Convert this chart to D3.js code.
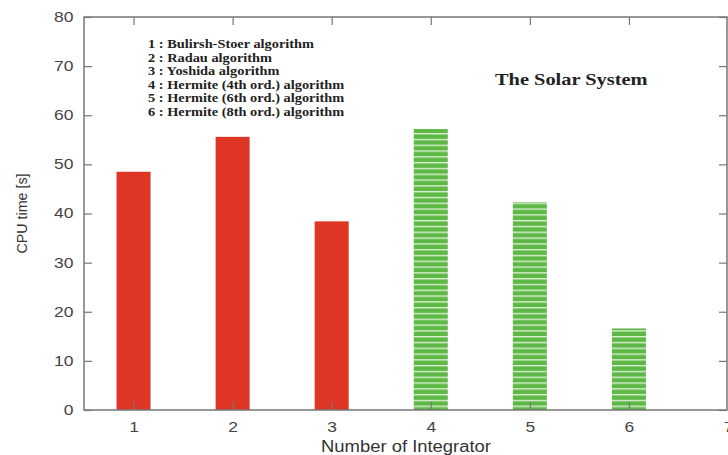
<!DOCTYPE html>
<html>
<head>
<meta charset="utf-8">
<script src="https://cdn.jsdelivr.net/npm/d3@7"></script>
<style>
  body { margin: 0; background: #fff; }
  svg { display: block; }
</style>
</head>
<body>
<div id="chart"></div>
<script>
// values
const integrators = [1, 2, 3, 4, 5, 6];
const cpuTime = [48.5, 55.6, 38.4, 57.2, 42.3, 16.6];
const groups = ["red", "red", "red", "green", "green", "green"];
const legendLines = [
    "1 : Bulirsh-Stoer algorithm",
    "2 : Radau algorithm",
    "3 :  Yoshida algorithm",
    "4 : Hermite (4th ord.) algorithm",
    "5 : Hermite (6th ord.) algorithm",
    "6 : Hermite (8th ord.) algorithm"
];
const xTicks = [1, 2, 3, 4, 5, 6, 7];
const yTicks = [0, 10, 20, 30, 40, 50, 60, 70, 80];

const W = 728, H = 455;
const margin = {top: 17, right: 0, bottom: 45, left: 84},
    width = W - margin.left - margin.right,
    height = H - margin.top - margin.bottom;

// the source picture is stretched sideways, so is its text
const stretch = 1.25;
const sans = "'Liberation Sans', Arial, sans-serif";
const serif = "'Liberation Serif', 'DejaVu Serif', serif";

const svg = d3.select("#chart")
    .append("svg")
    .attr("width", W).attr("height", H);

const defs = svg.append("defs");
const pat = defs.append("pattern")
    .attr("id", "stripes")
    .attr("patternUnits", "userSpaceOnUse")
    .attr("width", 10).attr("height", 5.8);
pat.append("rect").attr("width", 10).attr("height", 5.8).attr("fill", "#d8efcf");
pat.append("rect").attr("y", 1.4).attr("width", 10).attr("height", 4.4).attr("fill", "#5db845");

const g = svg.append("g")
    .attr("transform", `translate(${margin.left},${margin.top})`);

const x = d3.scaleLinear().domain([0.5, 7]).range([0, width]);
const y = d3.scaleLinear().domain([0, 80]).range([height, 0]);

const barW = 34;
g.selectAll(".bar")
    .data(integrators)
    .join("rect")
    .attr("class", "bar")
    .attr("x", (d, i) => x(d) - barW / 2)
    .attr("width", barW)
    .attr("y", (d, i) => y(cpuTime[i]))
    .attr("height", (d, i) => y(0) - y(cpuTime[i]))
    .attr("fill", (d, i) => groups[i] === "red" ? "#de3524" : "url(#stripes)");

// frame
const axisColor = "#777";
g.append("rect")
    .attr("x", 0).attr("y", 0)
    .attr("width", width - 1).attr("height", height)
    .attr("fill", "none")
    .attr("stroke", axisColor)
    .attr("stroke-width", 1.5);

// inward ticks, mirrored
const tl = 8;
function styleAxis(sel) {
    sel.select(".domain").remove();
    sel.selectAll(".tick line").attr("stroke", axisColor).attr("stroke-width", 1.2);
    sel.selectAll(".tick text")
        .attr("fill", "#444")
        .attr("transform", `scale(${stretch},1)`)
        .style("font-family", sans)
        .style("font-size", "14px");
}
g.append("g")
    .attr("transform", `translate(0,${height})`)
    .call(d3.axisBottom(x).tickValues(xTicks).tickSizeInner(-tl).tickSizeOuter(0).tickPadding(12).tickFormat(d3.format("d")))
    .call(styleAxis);
g.append("g")
    .call(d3.axisTop(x).tickValues(xTicks).tickSizeInner(-tl).tickSizeOuter(0).tickFormat(""))
    .call(styleAxis);
g.append("g")
    .call(d3.axisLeft(y).tickValues(yTicks).tickSizeInner(-tl).tickSizeOuter(0).tickPadding(8.5))
    .call(styleAxis);
g.append("g")
    .attr("transform", `translate(${width - 1},0)`)
    .call(d3.axisRight(y).tickValues(yTicks).tickSizeInner(-tl).tickSizeOuter(0).tickFormat(""))
    .call(styleAxis);

// axis titles
svg.append("text")
    .attr("x", 406)
    .attr("y", 452)
    .attr("text-anchor", "middle")
    .attr("textLength", 170)
    .attr("lengthAdjust", "spacingAndGlyphs")
    .attr("fill", "#333")
    .style("font-family", sans)
    .style("font-size", "16px")
    .text("Number of Integrator");
svg.append("text")
    .attr("transform", `translate(27,${margin.top + y(40)}) rotate(-90)`)
    .attr("text-anchor", "middle")
    .attr("textLength", 80)
    .attr("lengthAdjust", "spacingAndGlyphs")
    .attr("fill", "#333")
    .style("font-family", sans)
    .style("font-size", "15px")
    .text("CPU time [s]");

// legend text
g.append("g")
    .attr("transform", `translate(64,31) scale(${stretch},1)`)
    .selectAll("text")
    .data(legendLines)
    .join("text")
    .attr("x", 0)
    .attr("y", (d, i) => i * 13.6)
    .attr("fill", "#222")
    .style("font-family", serif)
    .style("font-weight", "bold")
    .style("font-size", "11.5px")
    .text(d => d);

g.append("g")
    .attr("transform", `translate(411,68) scale(1.2,1)`)
    .append("text")
    .attr("fill", "#222")
    .style("font-family", serif)
    .style("font-weight", "bold")
    .style("font-size", "17px")
    .text("The Solar System");

svg.node();
</script>
</body>
</html>
